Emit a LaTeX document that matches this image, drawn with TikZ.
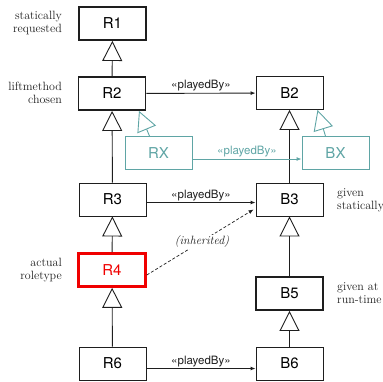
\documentclass[tikz,border=0pt]{standalone}
\usepackage{xcolor}
\usepackage{fontspec}
\setsansfont{TeX Gyre Heros}
\usepackage{tikz}
\usetikzlibrary{arrows.meta, positioning, calc}
\definecolor{myteal}{RGB}{95,165,165}
\definecolor{myred}{RGB}{240,0,0}
\definecolor{mydark}{RGB}{30,30,30}
\tikzset{
  cls/.style={rectangle, draw=mydark, fill=white,
    minimum width=67, minimum height=33, inner sep=0pt,
    font=\sffamily\fontsize{15}{15}\selectfont, line width=0.9pt},
  thickcls/.style={cls, line width=1.9pt},
  redcls/.style={cls, draw=myred, text=myred, line width=2.6pt},
  tealcls/.style={cls, draw=myteal, text=myteal},
  inherit/.style={-{Triangle[open, length=20pt, width=20pt]}, line width=0.9pt, color=mydark},
  tealinherit/.style={inherit, color=myteal},
  played/.style={-{Latex[length=5pt, width=4pt]}, line width=0.9pt, color=mydark},
  tealplayed/.style={played, color=myteal},
  note/.style={font=\fontsize{12}{13}\selectfont, text=mydark, inner sep=0pt},
  plabel/.style={font=\sffamily\fontsize{11.5}{12}\selectfont, inner sep=1.5pt}
}

\begin{document}
\begin{tikzpicture}[x=1pt, y=-1pt]
  \useasboundingbox (0,0) rectangle (383,381);

  % Role classes (left column)
  \node[thickcls] (R1) at (112.5,23.5) {R1};
  \node[thickcls] (R2) at (112,93.5) {R2};
  \node[cls] (R3) at (112.5,199.5) {R3};
  \node[redcls] (R4) at (112,270) {R4};
  \node[cls] (R6) at (112.5,363.5) {R6};

  % Base classes (right column)
  \node[cls] (B2) at (289.5,93) {B2};
  \node[cls] (B3) at (289.5,199.5) {B3};
  \node[thickcls] (B5) at (289.5,293.5) {B5};
  \node[cls] (B6) at (289.5,363.5) {B6};

  % Extra pair in teal
  \node[tealcls] (RX) at (158.5,153) {RX};
  \node[tealcls] (BX) at (335.5,153) {BX};

  % Inheritance
  \draw[inherit] (R2) -- (R1);
  \draw[inherit] (R3) -- (R2);
  \draw[inherit] (R4) -- (R3);
  \draw[inherit] (R6) -- (R4);
  \draw[inherit] (B3) -- (B2);
  \draw[inherit] (B5) -- (B3);
  \draw[inherit] (B6) -- (B5);
  \draw[tealinherit] ([xshift=-9pt]RX.north) -- ([xshift=27pt]R2.south);
  \draw[tealinherit] ([xshift=-10pt]BX.north) -- ([xshift=28pt]B2.south);

  % playedBy relations
  \draw[played] (R2) -- node[plabel, above] {«playedBy»} (B2);
  \draw[played] ([yshift=-3pt]R3.east) -- node[plabel, above] {«playedBy»} ([yshift=-3pt]B3.west);
  \draw[played] ([yshift=-5pt]R6.east) -- node[plabel, above] {«playedBy»} ([yshift=-5pt]B6.west);
  \draw[tealplayed] ([yshift=-6pt]RX.east) -- node[plabel, above, text=myteal] {«playedBy»} ([yshift=-6pt]BX.west);

  % inherited playedBy
  \draw[played, densely dashed, line width=0.7pt] ([yshift=-5pt]R4.east) -- ([xshift=-2pt, yshift=-10pt]B3.west);
  \node[note, fill=white, inner sep=1pt, font=\fontsize{12}{13}\selectfont\itshape] (inh) at (202,242) {(inherited)};

  % Annotations
  \node[note, align=right, anchor=east] (n1) at (62,23) {statically\\requested};
  \node[note, align=right, anchor=east] (n2) at (62,93) {liftmethod\\chosen};
  \node[note, align=right, anchor=east] (n4) at (62,270) {actual\\roletype};
  \node[note, align=left, anchor=west] (n3) at (337,200) {given\\statically};
  \node[note, align=left, anchor=west] (n5) at (337,293) {given at\\run-time};
\end{tikzpicture}
\end{document}
